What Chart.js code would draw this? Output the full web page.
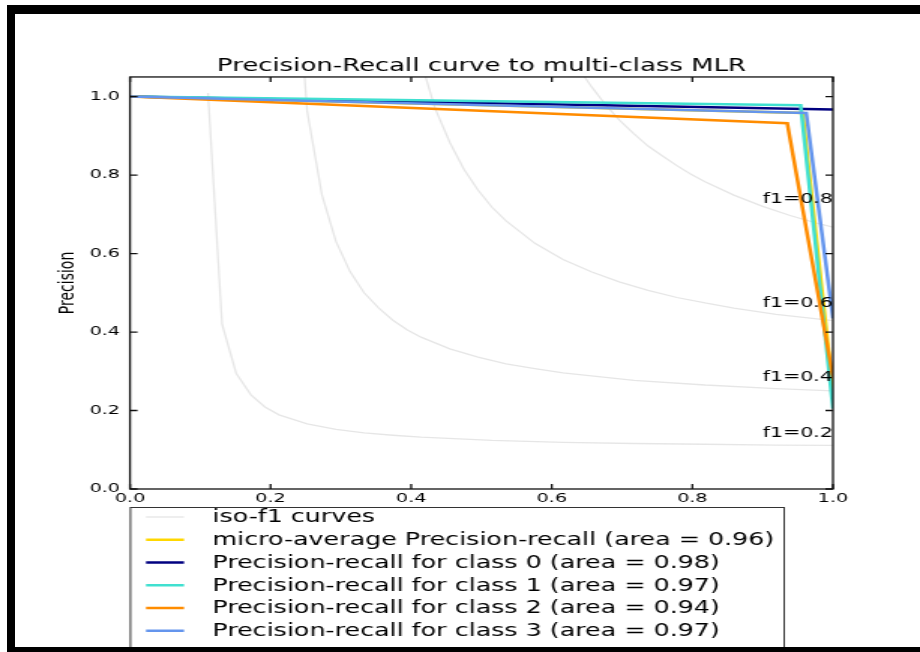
<!DOCTYPE html>
<html>
<head>
<meta charset="utf-8">
<title>Precision-Recall curve to multi-class MLR</title>
<script src="https://cdn.jsdelivr.net/npm/chart.js@4.4.1/dist/chart.umd.min.js"></script>
<style>
  html, body { margin: 0; padding: 0; background: #fff; }
  body { width: 920px; height: 652px; position: relative; overflow: hidden; }
  /* the source figure is stretched sideways, so the chart is drawn narrow and widened */
  #stretch { position: absolute; left: 0; top: 0; width: 613px; height: 652px;
             transform: scaleX(1.50082); transform-origin: 0 0; }
  .frame { position: absolute; background: #000; }
</style>
</head>
<body>
<div id="stretch"><canvas id="prChart" width="613" height="652"></canvas></div>
<div class="frame" style="left:7px;top:5px;width:913px;height:9px"></div>
<div class="frame" style="left:7px;top:5px;width:8px;height:647px"></div>
<div class="frame" style="left:7px;top:647px;width:913px;height:5px"></div>

<script>
// tick labels
const xTicks = [0, 0.2, 0.4, 0.6, 0.8, 1.0];
const yTicks = [0, 0.2, 0.4, 0.6, 0.8, 1.0];

// iso-f1 curves (recall, precision)
const isoF1Values = [0.2, 0.4, 0.6, 0.8];
const iso02Recall    = [0.111, 0.131, 0.151, 0.172, 0.192, 0.212, 0.252, 0.293, 0.333, 0.374, 0.414, 0.515, 0.616, 0.717, 0.818, 0.919, 1.0];
const iso02Precision = [1.009, 0.420, 0.295, 0.240, 0.209, 0.189, 0.166, 0.152, 0.143, 0.137, 0.132, 0.124, 0.119, 0.116, 0.114, 0.112, 0.111];
const iso04Recall    = [0.232, 0.252, 0.273, 0.293, 0.313, 0.333, 0.354, 0.374, 0.394, 0.414, 0.455, 0.495, 0.535, 0.576, 0.616, 0.717, 0.818, 0.919, 1.0];
const iso04Precision = [1.442, 0.963, 0.750, 0.631, 0.554, 0.500, 0.461, 0.430, 0.406, 0.387, 0.357, 0.336, 0.319, 0.307, 0.296, 0.277, 0.265, 0.256, 0.250];
const iso06Recall    = [0.414, 0.434, 0.455, 0.475, 0.495, 0.515, 0.535, 0.576, 0.616, 0.657, 0.697, 0.737, 0.778, 0.818, 0.859, 0.919, 1.0];
const iso06Precision = [1.089, 0.970, 0.883, 0.815, 0.762, 0.718, 0.683, 0.626, 0.585, 0.553, 0.527, 0.506, 0.488, 0.474, 0.461, 0.445, 0.429];
const iso08Recall    = [0.636, 0.657, 0.677, 0.697, 0.717, 0.737, 0.758, 0.778, 0.798, 0.818, 0.859, 0.899, 0.939, 0.980, 1.0];
const iso08Precision = [1.077, 1.024, 0.978, 0.939, 0.905, 0.874, 0.848, 0.824, 0.802, 0.783, 0.749, 0.721, 0.697, 0.676, 0.667];
const isoLabelRecall = 0.9;
const isoLabelPrecision = [0.132, 0.276, 0.465, 0.728];

// precision-recall curves
const microRecall     = [0, 0.957, 1.0];
const microPrecision  = [1.0, 0.958, 0.25];
const class0Recall    = [0, 1.0];
const class0Precision = [1.0, 0.967];
const class1Recall    = [0, 0.954, 1.0];
const class1Precision = [1.0, 0.978, 0.205];
const class2Recall    = [0, 0.935, 1.0];
const class2Precision = [1.0, 0.932, 0.285];
const class3Recall    = [0, 0.962, 1.0];
const class3Precision = [1.0, 0.958, 0.435];

const seriesLabels = [
  'micro-average Precision-recall (area = 0.96)',
  'Precision-recall for class 0 (area = 0.98)',
  'Precision-recall for class 1 (area = 0.97)',
  'Precision-recall for class 2 (area = 0.94)',
  'Precision-recall for class 3 (area = 0.97)'
];
const seriesColors = ['#FFD700', '#000080', '#40E0D0', '#FF8C00', '#6495ED'];
const isoColor = 'rgba(128,128,128,0.2)';
const FONT = 'DejaVu Sans';

const toPoints = (xs, ys) => xs.map((v, i) => ({x: v, y: ys[i]}));

const isoCurves = [
  [iso02Recall, iso02Precision],
  [iso04Recall, iso04Precision],
  [iso06Recall, iso06Precision],
  [iso08Recall, iso08Precision]
];
const prCurves = [
  [microRecall, microPrecision],
  [class0Recall, class0Precision],
  [class1Recall, class1Precision],
  [class2Recall, class2Precision],
  [class3Recall, class3Precision]
];

const datasets = [];
isoCurves.forEach(function(c) {
  datasets.push({
    label: 'iso-f1 curves',
    data: toPoints(c[0], c[1]),
    borderColor: isoColor,
    borderWidth: 1.3,
    pointRadius: 0,
    clip: 0,
    order: 10
  });
});
prCurves.forEach(function(c, i) {
  datasets.push({
    label: seriesLabels[i],
    data: toPoints(c[0], c[1]),
    borderColor: seriesColors[i],
    borderWidth: 2.5,
    pointRadius: 0,
    clip: 0,
    order: 5 - i   // later series on top, like matplotlib
  });
});

// box around the axes with inward ticks on all four sides
const axesBox = {
  id: 'axesBox',
  afterDatasetsDraw(chart) {
    const {ctx, chartArea: a, scales} = chart;
    ctx.save();
    ctx.strokeStyle = '#111';
    ctx.lineWidth = 1.3;
    ctx.strokeRect(a.left, a.top, a.right - a.left, a.bottom - a.top);
    ctx.beginPath();
    scales.x.ticks.forEach(function(t) {
      const px = scales.x.getPixelForValue(t.value);
      ctx.moveTo(px, a.bottom); ctx.lineTo(px, a.bottom - 5);
      ctx.moveTo(px, a.top); ctx.lineTo(px, a.top + 5);
    });
    scales.y.ticks.forEach(function(t) {
      const py = scales.y.getPixelForValue(t.value);
      ctx.moveTo(a.left, py); ctx.lineTo(a.left + 5, py);
      ctx.moveTo(a.right, py); ctx.lineTo(a.right - 5, py);
    });
    ctx.stroke();

    // f1 labels
    ctx.fillStyle = '#000';
    ctx.font = '13.7px "' + FONT + '"';
    ctx.textAlign = 'left';
    ctx.textBaseline = 'alphabetic';
    isoF1Values.forEach(function(f, i) {
      ctx.fillText('f1=' + f.toFixed(1),
        scales.x.getPixelForValue(isoLabelRecall),
        scales.y.getPixelForValue(isoLabelPrecision[i]));
    });
    ctx.restore();
  }
};

// framed legend under the axes
const boxLegend = {
  id: 'boxLegend',
  afterDraw(chart) {
    const ctx = chart.ctx;
    const items = [{label: 'iso-f1 curves', color: isoColor, width: 1.3}]
      .concat(seriesLabels.map((l, i) => ({label: l, color: seriesColors[i], width: 2.5})));
    const left = 86.4, right = 522, top = 507;
    ctx.save();
    ctx.fillStyle = '#fff';
    ctx.fillRect(left, top, right - left, 150);
    ctx.strokeStyle = '#333';
    ctx.lineWidth = 1;
    ctx.strokeRect(left + 0.5, top + 0.5, right - left, 150);
    ctx.font = '16.9px "' + FONT + '"';
    ctx.textBaseline = 'middle';
    ctx.textAlign = 'left';
    items.forEach(function(it, i) {
      const y = 517 + i * 22.75;
      ctx.strokeStyle = it.color;
      ctx.lineWidth = it.width;
      ctx.beginPath();
      ctx.moveTo(97.3, y); ctx.lineTo(122.6, y);
      ctx.stroke();
      ctx.fillStyle = '#000';
      ctx.fillText(it.label, 141.5, y + 1);
    });
    ctx.restore();
  }
};

const ctx = document.getElementById('prChart');

new Chart(ctx, {
  type: 'line',
  data: { datasets: datasets },
  options: {
    responsive: false,
    animation: false,
    events: [],
    layout: { padding: { left: 0, right: 58, top: 0, bottom: 143 } },
    plugins: {
      legend: { display: false },
      tooltip: { enabled: false },
      title: {
        display: true,
        fullSize: false,
        text: 'Precision-Recall curve to multi-class MLR',
        color: '#000',
        font: { family: FONT, size: 17.3, weight: 'normal', lineHeight: 1.2 },
        padding: { top: 55.8, bottom: 0.4 }
      }
    },
    scales: {
      x: {
        type: 'linear',
        min: 0,
        max: 1,
        grid: { display: false, drawTicks: false },
        border: { display: false },
        afterFit: function(s) { s.height = 20; },
        afterBuildTicks: function(s) { s.ticks = xTicks.map(v => ({value: v})); },
        ticks: {
          padding: 1.5,
          color: '#000',
          font: { family: FONT, size: 12.8 },
          callback: v => Number(v).toFixed(1)
        }
      },
      y: {
        type: 'linear',
        min: 0,
        max: 1.05,
        grid: { display: false, drawTicks: false },
        border: { display: false },
        afterFit: function(s) { s.width = 86.6; },
        afterBuildTicks: function(s) { s.ticks = yTicks.map(v => ({value: v})); },
        ticks: {
          padding: 6.6,
          color: '#000',
          font: { family: FONT, size: 12.8 },
          callback: v => Number(v).toFixed(1)
        },
        title: {
          display: true,
          text: 'Precision',
          color: '#000',
          font: { family: FONT, size: 14, lineHeight: 1.2 },
          padding: { top: 36.6, bottom: 0 }
        }
      }
    }
  },
  plugins: [axesBox, boxLegend]
});
</script>
</body>
</html>
